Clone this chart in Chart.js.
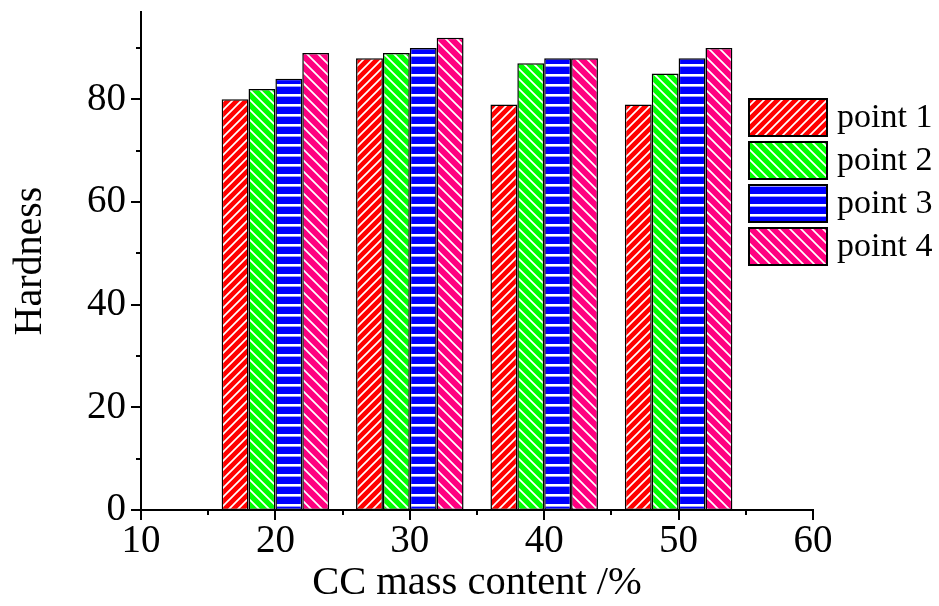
<!DOCTYPE html>
<html>
<head>
<meta charset="utf-8">
<title>Hardness</title>
<script src="https://cdn.jsdelivr.net/npm/chart.js@4.4.0/dist/chart.umd.min.js"></script>
<style>
html, body { margin: 0; padding: 0; background: #fff; }
#wrap { width: 939px; height: 606px; position: relative; }
</style>
</head>
<body>
<div id="wrap"><canvas id="myChart"></canvas></div>
<script>
// values
var contents = [20, 30, 40, 50];
var point1 = [80, 88, 79, 79];
var point2 = [82, 89, 87, 85];
var point3 = [84, 90, 88, 88];
var point4 = [89, 92, 88, 90];
var seriesNames = ['point 1', 'point 2', 'point 3', 'point 4'];

var xTicks = [10, 20, 30, 40, 50, 60];
var xMinor = [15, 25, 35, 45, 55];
var yTicks = [0, 20, 40, 60, 80];
var yMinor = [10, 30, 50, 70, 90];

var serif = "'Liberation Serif', 'Times New Roman', serif";

// hatch fills
function hatch(bg, kind, s) {
    var c = document.createElement('canvas');
    c.width = s; c.height = s;
    var g = c.getContext('2d');
    g.fillStyle = bg;
    g.fillRect(0, 0, s, s);
    if (kind == '-') {
        g.fillStyle = '#fff';
        g.fillRect(0, 4, s, 2);
        g.fillStyle = '#9a9aff';
        g.fillRect(0, 6, s, 1);
    } else {
        g.strokeStyle = '#fff';
        g.lineWidth = 1.7;
        g.beginPath();
        if (kind == '/') {
            g.moveTo(0, s); g.lineTo(s, 0);
            g.moveTo(-2, 2); g.lineTo(2, -2);
            g.moveTo(s - 2, s + 2); g.lineTo(s + 2, s - 2);
        } else {
            g.moveTo(0, 0); g.lineTo(s, s);
            g.moveTo(-2, s - 2); g.lineTo(2, s + 2);
            g.moveTo(s - 2, -2); g.lineTo(s + 2, 2);
        }
        g.stroke();
    }
    return g.createPattern(c, 'repeat');
}

var ctx = document.getElementById('myChart').getContext('2d');
var fills = [
    hatch('#ff0000', '/', 9),
    hatch('#00ff00', '\\', 10),
    hatch('#0000ff', '-', 10),
    hatch('#ff0080', '\\', 11)
];

function pts(vals) {
    return contents.map(function (x, i) { return { x: x, y: vals[i] }; });
}

var allSeries = [point1, point2, point3, point4];
var datasets = allSeries.map(function (vals, i) {
    return {
        label: seriesNames[i],
        data: pts(vals),
        backgroundColor: fills[i],
        borderColor: '#000',
        borderWidth: 1.5,
        borderSkipped: false,
        categoryPercentage: 0.8,
        barPercentage: 1.0
    };
});

// minor/major tick marks and the legend box
var extras = {
    id: 'extras',
    afterDraw: function (chart) {
        var c = chart.ctx, xs = chart.scales.x, ys = chart.scales.y;
        var a = chart.chartArea;
        c.save();
        c.strokeStyle = '#000';
        c.lineWidth = 2;
        c.beginPath();
        xTicks.forEach(function (v) {
            var p = Math.round(xs.getPixelForValue(v));
            c.moveTo(p, a.bottom); c.lineTo(p, a.bottom + 10);
        });
        xMinor.forEach(function (v) {
            var p = Math.round(xs.getPixelForValue(v));
            c.moveTo(p, a.bottom); c.lineTo(p, a.bottom + 5);
        });
        yTicks.forEach(function (v) {
            var p = Math.round(ys.getPixelForValue(v));
            c.moveTo(a.left, p); c.lineTo(a.left - 10, p);
        });
        yMinor.forEach(function (v) {
            var p = Math.round(ys.getPixelForValue(v));
            c.moveTo(a.left, p); c.lineTo(a.left - 5, p);
        });
        c.stroke();

        // legend
        var lx = 749, ly = 99, bw = 78, bh = 37, gap = 43;
        c.font = '34px ' + serif;
        c.textBaseline = 'middle';
        c.textAlign = 'left';
        chart.data.datasets.forEach(function (ds, i) {
            var y = ly + i * gap;
            c.fillStyle = ds.backgroundColor;
            c.fillRect(lx, y, bw, bh);
            c.lineWidth = 2;
            c.strokeRect(lx, y, bw, bh);
            c.fillStyle = '#000';
            c.fillText(ds.label, lx + bw + 10, y + bh / 2 + 1);
        });
        c.restore();
    }
};

var myChart = new Chart(ctx, {
    type: 'bar',
    data: { datasets: datasets },
    plugins: [extras],
    options: {
        responsive: true,
        maintainAspectRatio: false,
        animation: false,
        layout: { padding: { top: 12, right: 126, left: 0, bottom: 0 } },
        plugins: {
            legend: { display: false },
            tooltip: { enabled: false }
        },
        scales: {
            x: {
                type: 'linear',
                min: 10,
                max: 60,
                offset: false,
                afterBuildTicks: function (s) {
                    s.ticks = xTicks.map(function (v) { return { value: v }; });
                },
                afterFit: function (s) {
                    s.height = 96;
                    s.paddingLeft = 0;
                    s.paddingRight = 0;
                },
                grid: { display: false, drawTicks: false },
                border: { display: true, color: '#000', width: 2 },
                ticks: {
                    color: '#000',
                    padding: 8,
                    maxRotation: 0,
                    font: { family: serif, size: 39 }
                },
                title: {
                    display: true,
                    text: 'CC mass content /%',
                    color: '#000',
                    font: { family: serif, size: 40.5, lineHeight: 1 },
                    padding: { top: 0, bottom: 2 }
                }
            },
            y: {
                min: 0,
                max: 97,
                afterBuildTicks: function (s) {
                    s.ticks = yTicks.map(function (v) { return { value: v }; });
                },
                afterFit: function (s) {
                    s.width = 141;
                    s.paddingTop = 0;
                    s.paddingBottom = 0;
                },
                grid: { display: false, drawTicks: false },
                border: { display: true, color: '#000', width: 2 },
                ticks: {
                    color: '#000',
                    padding: 15,
                    font: { family: serif, size: 39 }
                },
                title: {
                    display: true,
                    text: 'Hardness',
                    color: '#000',
                    font: { family: serif, size: 40, lineHeight: 1 },
                    padding: { top: 10, bottom: 0 }
                }
            }
        }
    }
});
</script>
</body>
</html>
